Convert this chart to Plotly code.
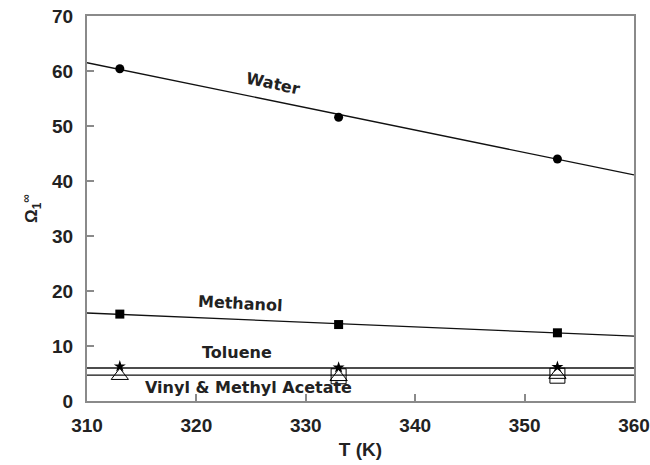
import plotly.graph_objects as go

# Measured temperatures (K)
temps = [313, 333, 353]

# Infinite-dilution activity coefficients
water = [60.4, 51.6, 44.0]
methanol = [15.8, 13.9, 12.4]
toluene = [6.3, 6.1, 6.2]
vinyl_acetate = [4.6, 4.4, 4.8]
methyl_acetate = [4.6, 4.5, 4.6]

# Correlation lines across the full temperature range
fit_t = [310, 360]
water_fit = [61.5, 41.1]
methanol_fit = [16.0, 11.8]
toluene_fit = [6.0, 6.0]
acetate_fit = [4.7, 4.7]

FONT = "Liberation Sans"
AXIS = "#8a8a8a"

fig = go.Figure()

for yfit in (water_fit, methanol_fit, toluene_fit, acetate_fit):
    fig.add_trace(go.Scatter(x=fit_t, y=yfit, mode="lines",
                             line=dict(color="#111", width=1.3),
                             showlegend=False, hoverinfo="skip"))

fig.add_trace(go.Scatter(x=temps, y=water, mode="markers", name="Water",
                         marker=dict(symbol="circle", size=9, color="#000")))
fig.add_trace(go.Scatter(x=temps, y=methanol, mode="markers", name="Methanol",
                         marker=dict(symbol="square", size=9, color="#000")))
fig.add_trace(go.Scatter(x=temps, y=vinyl_acetate, mode="markers", name="Vinyl acetate",
                         marker=dict(symbol="triangle-up-open", size=15, color="#000",
                                     line=dict(width=1))))
fig.add_trace(go.Scatter(x=temps[1:], y=methyl_acetate[1:], mode="markers",
                         name="Methyl acetate",
                         marker=dict(symbol="square-open", size=15, color="#000",
                                     line=dict(width=1))))
fig.add_trace(go.Scatter(x=temps, y=toluene, mode="markers", name="Toluene",
                         marker=dict(symbol="star", size=9, color="#000",
                                     line=dict(width=0))))

# Curve labels
lab = dict(family="DejaVu Sans", size=16, color="#222", weight="bold")
fig.add_annotation(x=327.0, y=57.8, text="Water", textangle=12,
                   showarrow=False, font=lab)
fig.add_annotation(x=324.0, y=17.8, text="Methanol", textangle=3,
                   showarrow=False, font=lab)
fig.add_annotation(x=323.7, y=8.9, text="Toluene", showarrow=False, font=lab)
fig.add_annotation(x=324.8, y=2.4, text="Vinyl &amp; Methyl Acetate",
                   showarrow=False, font=lab)

tickfont = dict(family=FONT, size=19, color="#222", weight="bold")
fig.update_xaxes(range=[310, 360], tickvals=[310, 320, 330, 340, 350, 360],
                 ticks="inside", ticklen=7, tickcolor=AXIS, tickwidth=1.5,
                 showline=True, linecolor=AXIS, linewidth=2, mirror=True,
                 showgrid=False, zeroline=False, tickfont=tickfont,
                 ticklabelstandoff=6, automargin=False,
                 title=dict(text="T (K)", font=tickfont, standoff=8))
fig.update_yaxes(range=[0, 70], tickvals=list(range(0, 71, 10)),
                 ticks="inside", ticklen=7, tickcolor=AXIS, tickwidth=1.5,
                 showline=True, linecolor=AXIS, linewidth=2, mirror=True,
                 showgrid=False, zeroline=False, tickfont=tickfont,
                 ticklabelstandoff=8, automargin=False,
                 title=dict(text="Ω<sub>1</sub><sup>∞</sup>",
                            font=dict(family=FONT, size=17, color="#222", weight="bold"),
                            standoff=10))

fig.update_layout(width=650, height=465, showlegend=False,
                  plot_bgcolor="white", paper_bgcolor="white",
                  margin=dict(l=87, r=16, t=16, b=64, autoexpand=False))

fig.write_html("out.html")
